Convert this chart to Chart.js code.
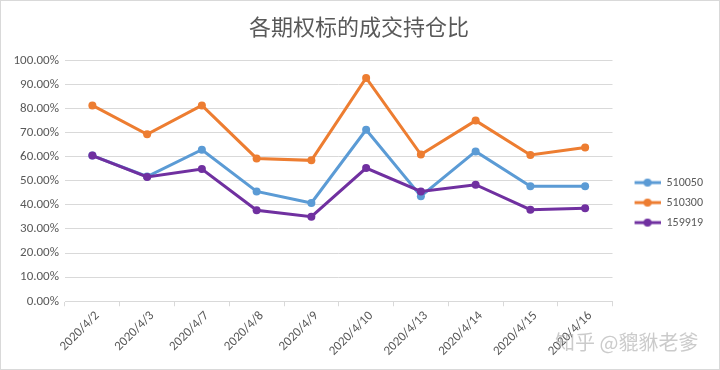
<!DOCTYPE html>
<html>
<head>
<meta charset="utf-8">
<script src="https://cdn.jsdelivr.net/npm/chart.js@4/dist/chart.umd.min.js"></script>
<style>
  html, body { margin: 0; padding: 0; background: #fff; }
  #wrap { position: relative; width: 720px; height: 370px; box-sizing: border-box; border: 1px solid #d9d9d9; }
  #mark { position: absolute; left: 554px; top: 326px; font: 20px "Noto Sans CJK SC", sans-serif; color: rgba(160,160,160,0.55); white-space: nowrap; }
</style>
</head>
<body>
<div id="wrap">
  <canvas id="ratioChart" width="718" height="368"></canvas>
  <div id="mark">知乎 @貔貅老爹</div>
</div>
<script>
// data (percent)
const dates = ['2020/4/2', '2020/4/3', '2020/4/7', '2020/4/8', '2020/4/9', '2020/4/10', '2020/4/13', '2020/4/14', '2020/4/15', '2020/4/16'];
const s510050 = [60.5, 51.8, 62.9, 45.6, 40.8, 71.2, 43.6, 62.2, 47.7, 47.7];
const s510300 = [81.3, 69.3, 81.3, 59.3, 58.5, 92.7, 60.9, 75.0, 60.7, 63.8];
const s159919 = [60.5, 51.6, 54.9, 37.8, 35.1, 55.3, 45.6, 48.4, 38.0, 38.6];
const seriesNames = ['510050', '510300', '159919'];
const yTicks = [0, 10, 20, 30, 40, 50, 60, 70, 80, 90, 100];

const colors = ['#5B9BD5', '#ED7D31', '#7030A0'];
const textColor = '#595959';
const gridColor = '#d9d9d9';
const axisFont = 'Calibri, "Liberation Sans", sans-serif';

// little line + dot for the legend, like Excel (left part left blank as spacing)
function legendIcon(color) {
    const c = document.createElement('canvas');
    c.width = 40;
    c.height = 10;
    const g = c.getContext('2d');
    g.strokeStyle = color;
    g.lineWidth = 3;
    g.beginPath();
    g.moveTo(14, 5);
    g.lineTo(40, 5);
    g.stroke();
    g.fillStyle = color;
    g.beginPath();
    g.arc(27, 5, 4, 0, Math.PI * 2);
    g.fill();
    return c;
}

const allSeries = [s510050, s510300, s159919];
const drawOrder = [1, 2, 0];

const ctx = document.getElementById('ratioChart');
ctx.chart = new Chart(ctx, {
    type: 'line',
    data: {
        labels: dates,
        datasets: allSeries.map((values, i) => ({
            label: seriesNames[i],
            data: values,
            borderColor: colors[i],
            backgroundColor: colors[i],
            borderWidth: 3,
            pointRadius: 4,
            pointBorderWidth: 0,
            pointBackgroundColor: colors[i],
            tension: 0,
            order: drawOrder[i]
        }))
    },
    options: {
        responsive: false,
        animation: false,
        layout: { padding: { top: 0, right: 6, bottom: 8, left: 4 } },
        plugins: {
            title: {
                display: true,
                text: '各期权标的成交持仓比',
                color: textColor,
                font: { family: '"Noto Sans CJK SC", sans-serif', size: 22, weight: 'normal' },
                padding: { top: 12, bottom: 21 }
            },
            legend: {
                position: 'right',
                align: 'center',
                title: { display: true, text: ' ', padding: 15, font: { size: 11 } },
                labels: {
                    color: textColor,
                    font: { family: axisFont, size: 12 },
                    usePointStyle: true,
                    pointStyleWidth: 40,
                    boxHeight: 10,
                    padding: 8,
                    sort: (a, b) => a.datasetIndex - b.datasetIndex,
                    generateLabels: function(chart) {
                        return chart.data.datasets.map((ds, i) => ({
                            text: ds.label,
                            fontColor: textColor,
                            pointStyle: legendIcon(colors[i]),
                            datasetIndex: i,
                            hidden: false,
                            lineWidth: 0
                        }));
                    }
                }
            },
            tooltip: { enabled: false }
        },
        scales: {
            x: {
                offset: true,
                grid: {
                    offset: true,
                    drawOnChartArea: false,
                    drawTicks: true,
                    tickLength: 5,
                    color: gridColor
                },
                border: { display: true, color: gridColor, width: 1 },
                ticks: {
                    color: textColor,
                    font: { family: axisFont, size: 13 },
                    minRotation: 45,
                    maxRotation: 45,
                    autoSkip: false,
                    labelOffset: 5,
                    padding: 2
                }
            },
            y: {
                min: 0,
                max: 100,
                afterBuildTicks: function(axis) {
                    axis.ticks = yTicks.map(v => ({ value: v }));
                },
                afterFit: function(axis) {
                    axis.width = 60;
                },
                grid: { color: gridColor, drawTicks: false },
                border: { display: false },
                ticks: {
                    color: textColor,
                    font: { family: axisFont, size: 13 },
                    padding: 6,
                    callback: v => v.toFixed(2) + '%'
                }
            }
        }
    }
});
</script>
</body>
</html>
